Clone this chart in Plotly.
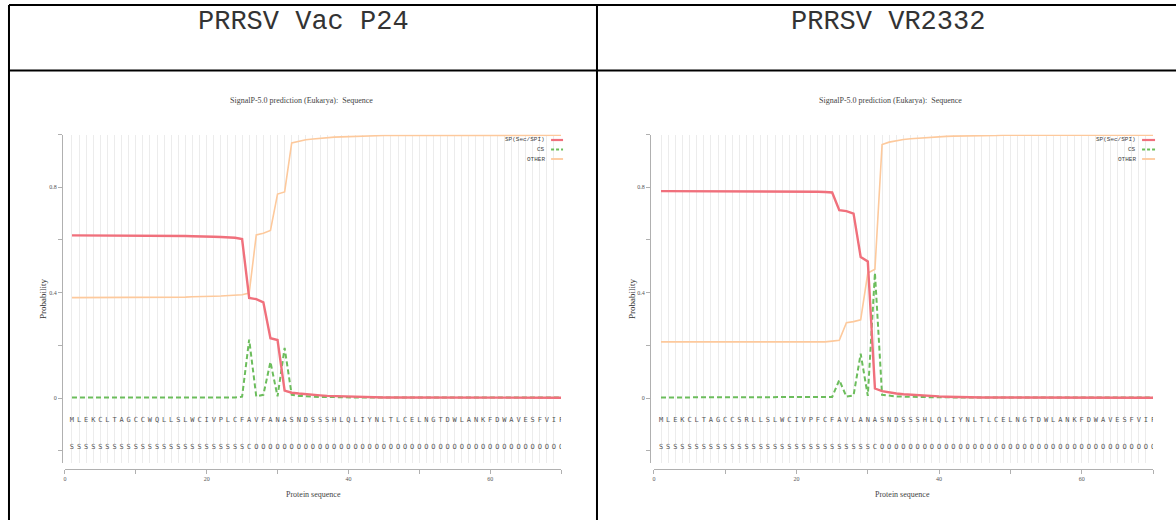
import plotly.graph_objects as go

W, H = 1176, 520

# ---------------- data ----------------
positions = list(range(1, 71))

seq_vac = "MLEKCLTAGCCWQLLSLWCIVPLCFAVFANASNDSSSHLQLIYNLTLCELNGTDWLANKFDWAVESFVIF"
lab_vac = "SSSSSSSSSSSSSSSSSSSSSSSSSCOOOOOOOOOOOOOOOOOOOOOOOOOOOOOOOOOOOOOOOOOOOO"
seq_vr = "MLEKCLTAGCCSRLLSLWCIVPFCFAVLANASNDSSSHLQLIYNLTLCELNGTDWLANKFDWAVESFVIF"
lab_vr = "SSSSSSSSSSSSSSSSSSSSSSSSSSSSSSCOOOOOOOOOOOOOOOOOOOOOOOOOOOOOOOOOOOOOOO"

sp_vac = [0.617, 0.617, 0.617, 0.617, 0.617, 0.617, 0.617, 0.617, 0.617, 0.617,
          0.617, 0.616, 0.616, 0.616, 0.616, 0.615, 0.615, 0.614, 0.614, 0.613,
          0.612, 0.611, 0.610, 0.608, 0.603, 0.380, 0.375, 0.363, 0.227, 0.220,
          0.028, 0.020, 0.017, 0.014, 0.012, 0.010, 0.008, 0.007, 0.006, 0.005,
          0.004, 0.004, 0.003, 0.003, 0.002, 0.002, 0.002, 0.002, 0.001, 0.001,
          0.001, 0.001, 0.001, 0.001, 0.001, 0.001, 0.001, 0.001, 0.001, 0.001,
          0.001, 0.001, 0.001, 0.001, 0.001, 0.001, 0.001, 0.001, 0.001, 0.001]
cs_vac = [0.002, 0.002, 0.002, 0.002, 0.002, 0.002, 0.002, 0.002, 0.002, 0.002,
          0.002, 0.002, 0.002, 0.002, 0.002, 0.002, 0.002, 0.002, 0.002, 0.002,
          0.002, 0.002, 0.002, 0.002, 0.005, 0.222, 0.006, 0.012, 0.137, 0.006,
          0.190, 0.012, 0.008, 0.006, 0.005, 0.004, 0.004, 0.003, 0.003, 0.003,
          0.002, 0.002, 0.002, 0.002, 0.002, 0.002, 0.002, 0.002, 0.002, 0.002,
          0.002, 0.002, 0.002, 0.002, 0.002, 0.002, 0.002, 0.002, 0.002, 0.002,
          0.002, 0.002, 0.002, 0.002, 0.002, 0.002, 0.002, 0.002, 0.002, 0.002]
other_vac = [0.381, 0.381, 0.381, 0.381, 0.381, 0.381, 0.381, 0.381, 0.381, 0.381,
             0.381, 0.382, 0.382, 0.382, 0.382, 0.383, 0.383, 0.384, 0.384, 0.385,
             0.386, 0.387, 0.388, 0.390, 0.392, 0.398, 0.619, 0.625, 0.636, 0.774,
             0.782, 0.968, 0.975, 0.980, 0.983, 0.986, 0.988, 0.990, 0.991, 0.992,
             0.994, 0.994, 0.995, 0.995, 0.996, 0.996, 0.996, 0.996, 0.997, 0.997,
             0.997, 0.997, 0.997, 0.997, 0.997, 0.997, 0.997, 0.997, 0.997, 0.997,
             0.997, 0.997, 0.997, 0.997, 0.997, 0.997, 0.997, 0.997, 0.997, 0.997]

sp_vr = [0.785, 0.785, 0.785, 0.785, 0.785, 0.785, 0.785, 0.785, 0.785, 0.785,
         0.785, 0.785, 0.785, 0.785, 0.784, 0.784, 0.784, 0.784, 0.784, 0.784,
         0.783, 0.783, 0.783, 0.782, 0.780, 0.713, 0.709, 0.700, 0.535, 0.518,
         0.036, 0.026, 0.021, 0.017, 0.014, 0.012, 0.010, 0.008, 0.007, 0.006,
         0.005, 0.004, 0.004, 0.003, 0.003, 0.002, 0.002, 0.002, 0.001, 0.001,
         0.001, 0.001, 0.001, 0.001, 0.001, 0.001, 0.001, 0.001, 0.001, 0.001,
         0.001, 0.001, 0.001, 0.001, 0.001, 0.001, 0.001, 0.001, 0.001, 0.001]
cs_vr = [0.002, 0.002, 0.002, 0.002, 0.002, 0.002, 0.002, 0.002, 0.002, 0.002,
         0.002, 0.002, 0.002, 0.002, 0.002, 0.002, 0.002, 0.002, 0.002, 0.002,
         0.002, 0.002, 0.002, 0.002, 0.004, 0.068, 0.005, 0.010, 0.168, 0.008,
         0.475, 0.012, 0.008, 0.006, 0.005, 0.004, 0.004, 0.003, 0.003, 0.003,
         0.002, 0.002, 0.002, 0.002, 0.002, 0.002, 0.002, 0.002, 0.002, 0.002,
         0.002, 0.002, 0.002, 0.002, 0.002, 0.002, 0.002, 0.002, 0.002, 0.002,
         0.002, 0.002, 0.002, 0.002, 0.002, 0.002, 0.002, 0.002, 0.002, 0.002]
other_vr = [0.213, 0.213, 0.213, 0.213, 0.213, 0.213, 0.213, 0.213, 0.213, 0.213,
            0.213, 0.213, 0.213, 0.213, 0.213, 0.213, 0.213, 0.213, 0.213, 0.213,
            0.213, 0.213, 0.213, 0.213, 0.216, 0.219, 0.286, 0.290, 0.297, 0.474,
            0.489, 0.962, 0.971, 0.977, 0.981, 0.984, 0.986, 0.989, 0.990, 0.991,
            0.993, 0.994, 0.994, 0.995, 0.995, 0.996, 0.996, 0.996, 0.997, 0.997,
            0.997, 0.997, 0.997, 0.997, 0.997, 0.997, 0.997, 0.997, 0.997, 0.997,
            0.997, 0.997, 0.997, 0.997, 0.997, 0.997, 0.997, 0.997, 0.997, 0.997]

headers = ["PRRSV Vac P24", "PRRSV VR2332"]
plot_title = "SignalP-5.0 prediction (Eukarya):  Sequence"
legend_names = ["SP(Sec/SPI)", "CS", "OTHER"]
x_title = "Protein sequence"
y_title = "Probability"
x_tickvals = [0, 10, 20, 30, 40, 50, 60, 70]
x_ticktext = ["0", "", "20", "", "40", "", "60", ""]
y_tickvals = [-0.2, 0, 0.2, 0.4, 0.6, 0.8, 1.0]
y_ticktext = ["", "0", "", "0.4", "", "0.8", ""]

# ---------------- styles ----------------
C_SP = "#f0707c"
C_CS = "#6cbd5c"
C_OT = "#fdc99c"
SERIF = "Liberation Serif"
MONO = "Liberation Mono"
CS_DASH = "5px,3px"


def px(x):
    return x / W


def py(y):
    return 1 - y / H


Y0_PX, YTOP_PX = 398.0, 134.5          # pixel rows of 0 and 1.0
PPU = Y0_PX - YTOP_PX                  # pixels per unit
YBOT_PX = 463.0
Y_RANGE = [(Y0_PX - YBOT_PX) / PPU, 1.0]
SEQ_Y = -0.083
LAB_Y = -0.188

panels = [
    dict(xd=(63, 560), yax_x=60, seq=seq_vac, lab=lab_vac, sp=sp_vac, cs=cs_vac, ot=other_vac,
         title_x=300, xt_x=312, yt_x=41, leg_r=546, leg_l0=550, leg_l1=562, head_x=302),
    dict(xd=(653, 1153), yax_x=649, seq=seq_vr, lab=lab_vr, sp=sp_vr, cs=cs_vr, ot=other_vr,
         title_x=890, xt_x=902, yt_x=631, leg_r=1138, leg_l0=1142, leg_l1=1155, head_x=888),
]

fig = go.Figure()
layout = dict(
    width=W, height=H, margin=dict(l=0, r=0, t=0, b=0),
    paper_bgcolor="white", plot_bgcolor="white", showlegend=False,
    annotations=[], shapes=[],
)

for i, p in enumerate(panels):
    sfx = "" if i == 0 else str(i + 1)
    xa, ya = "x" + sfx, "y" + sfx
    # traces
    fig.add_trace(go.Scatter(x=positions, y=p["ot"], mode="lines", xaxis=xa, yaxis=ya,
                             line=dict(color=C_OT, width=1.6), name="OTHER"))
    fig.add_trace(go.Scatter(x=positions, y=p["cs"], mode="lines", xaxis=xa, yaxis=ya,
                             line=dict(color=C_CS, width=2, dash=CS_DASH), name="CS"))
    fig.add_trace(go.Scatter(x=positions, y=p["sp"], mode="lines", xaxis=xa, yaxis=ya,
                             line=dict(color=C_SP, width=2.4), name="SP(Sec/SPI)"))
    fig.add_trace(go.Scatter(x=positions, y=[SEQ_Y] * len(positions), mode="text",
                             text=list(p["seq"]), xaxis=xa, yaxis=ya,
                             textfont=dict(family="DejaVu Sans Mono", size=7, color="#555")))
    fig.add_trace(go.Scatter(x=positions, y=[LAB_Y] * len(positions), mode="text",
                             text=list(p["lab"]), xaxis=xa, yaxis=ya,
                             textfont=dict(family="DejaVu Sans Mono", size=7, color="#555")))

    layout["xaxis" + sfx] = dict(
        domain=[px(p["xd"][0]), px(p["xd"][1])], range=[0, 70],
        anchor="free", position=py(469), showline=True, linecolor="#b0b0b0", linewidth=1,
        ticks="outside", ticklen=4, tickcolor="#b0b0b0",
        tickvals=x_tickvals, ticktext=x_ticktext,
        tickfont=dict(family=SERIF, size=6, color="#555"),
        showgrid=True, gridcolor="#ececec", gridwidth=1, zeroline=False,
        minor=dict(dtick=1, tick0=0, showgrid=True, gridcolor="#ececec", gridwidth=1, ticks=""),
        fixedrange=True,
    )
    layout["yaxis" + sfx] = dict(
        domain=[py(YBOT_PX), py(YTOP_PX)], range=Y_RANGE,
        anchor="free", position=px(p["yax_x"]), showline=True, linecolor="#b0b0b0", linewidth=1,
        ticks="outside", ticklen=4, tickcolor="#b0b0b0",
        tickvals=y_tickvals, ticktext=y_ticktext,
        tickfont=dict(family=SERIF, size=6, color="#555"),
        showgrid=False, zeroline=False, fixedrange=True,
    )

    ann = layout["annotations"]
    ann.append(dict(text=plot_title, xref="paper", yref="paper", x=px(p["title_x"]), y=py(101),
                    showarrow=False, xanchor="center", yanchor="middle",
                    font=dict(family=SERIF, size=8, color="#444")))
    ann.append(dict(text=x_title, xref="paper", yref="paper", x=px(p["xt_x"]), y=py(494),
                    showarrow=False, xanchor="center", yanchor="middle",
                    font=dict(family=SERIF, size=8, color="#444")))
    ann.append(dict(text=y_title, xref="paper", yref="paper", x=px(p["yt_x"]), y=py(299),
                    showarrow=False, xanchor="center", yanchor="middle", textangle=-90,
                    font=dict(family=SERIF, size=9, color="#333")))
    ann.append(dict(text=headers[i], xref="paper", yref="paper", x=px(p["head_x"]), y=py(22),
                    showarrow=False, xanchor="center", yanchor="middle",
                    font=dict(family=MONO, size=27, color="#333")))
    # legend (text left of sample, like the original)
    for k, (nm, col, dash, wd) in enumerate([(legend_names[0], C_SP, "solid", 2.2),
                                             (legend_names[1], C_CS, "3px,2px", 1.8),
                                             (legend_names[2], C_OT, "solid", 1.8)]):
        yy = 140 + 9.5 * k
        ann.append(dict(text=nm, xref="paper", yref="paper", x=px(p["leg_r"]), y=py(yy),
                        showarrow=False, xanchor="right", yanchor="middle",
                        font=dict(family=MONO, size=6, color="#444")))
        layout["shapes"].append(dict(type="line", xref="paper", yref="paper",
                                     x0=px(p["leg_l0"]), x1=px(p["leg_l1"]), y0=py(yy), y1=py(yy),
                                     line=dict(color=col, width=wd, dash=dash)))

# table borders
BL = dict(color="black", width=2)
for sh in [
    dict(x0=px(7), x1=1, y0=py(5), y1=py(5)),
    dict(x0=px(7), x1=1, y0=py(70.5), y1=py(70.5)),
    dict(x0=px(7), x1=px(7), y0=py(5), y1=0),
    dict(x0=px(596), x1=px(596), y0=py(5), y1=0),
]:
    layout["shapes"].append(dict(type="line", xref="paper", yref="paper", line=BL, **sh))

fig.update_layout(**layout)
fig.write_html("out.html", post_script="document.body.style.margin='0';",
               config={"displayModeBar": False})
